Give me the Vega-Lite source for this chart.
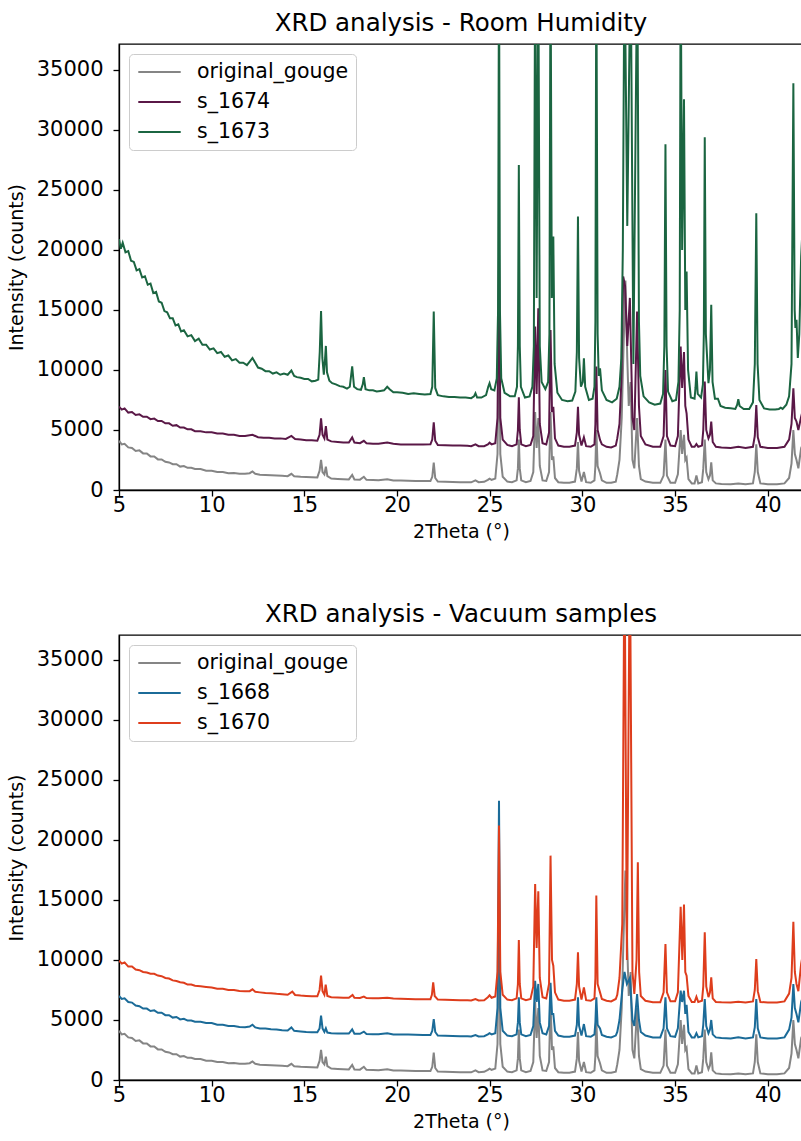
{
"$schema":"https://vega.github.io/schema/vega-lite/v6.json",
"padding":{"left":6,"top":9,"right":0,"bottom":0},
"spacing":57,
"config":{
 "font":"DejaVu Sans",
 "view":{"stroke":"#000","strokeWidth":1.3},
 "axis":{"grid":false,"domainColor":"#000","domainWidth":1.3,"tickColor":"#000","tickWidth":1.3,"tickSize":6,"labelFont":"DejaVu Sans","labelFontSize":21,"labelColor":"#000","titleFont":"DejaVu Sans","titleFontSize":19,"titleFontWeight":"normal","titleColor":"#000","labelFlush":false},
 "axisX":{"labelPadding":-2,"titlePadding":7.5},
 "axisY":{"labelPadding":10,"titlePadding":10},
 "title":{"font":"DejaVu Sans","fontSize":24.5,"fontWeight":"normal","color":"#000","anchor":"middle","frame":"group","baseline":"alphabetic","offset":8},
 "legend":{"orient":"none","legendX":10,"legendY":10,"title":null,"symbolType":"stroke","symbolSize":1800,"symbolStrokeWidth":2,"symbolOffset":1,"clipHeight":22,"labelFont":"DejaVu Sans","labelFontSize":20.5,"labelColor":"#000","labelOffset":15,"padding":7,"strokeColor":"#cccccc","fillColor":"#ffffff","cornerRadius":4,"rowPadding":8}
},
"datasets":{
"gouge":[
{"x":5.0,"y":4100},{"x":5.15,"y":3800},{"x":5.3,"y":3850},{"x":5.5,"y":3550},{"x":5.7,"y":3500},{"x":5.9,"y":3250},{"x":6.1,"y":3300},{"x":6.3,"y":3050},{"x":6.5,"y":3050},{"x":6.7,"y":2800},{"x":6.9,"y":2800},{"x":7.1,"y":2550},{"x":7.3,"y":2550},{"x":7.5,"y":2350},{"x":7.7,"y":2300},{"x":7.9,"y":2150},{"x":8.1,"y":2150},{"x":8.3,"y":1950},{"x":8.5,"y":2000},{"x":8.7,"y":1850},{"x":8.9,"y":1850},{"x":9.1,"y":1750},{"x":9.4,"y":1750},{"x":9.7,"y":1600},{"x":10.0,"y":1600},{"x":10.3,"y":1500},{"x":10.6,"y":1500},{"x":10.9,"y":1400},{"x":11.2,"y":1420},{"x":11.5,"y":1350},{"x":11.8,"y":1350},{"x":12.05,"y":1400},{"x":12.2,"y":1550},{"x":12.35,"y":1350},{"x":12.6,"y":1280},{"x":12.9,"y":1250},{"x":13.2,"y":1220},{"x":13.5,"y":1200},{"x":13.8,"y":1180},{"x":14.1,"y":1150},{"x":14.3,"y":1350},{"x":14.45,"y":1150},{"x":14.8,"y":1100},{"x":15.1,"y":1080},{"x":15.4,"y":1060},{"x":15.7,"y":1050},{"x":15.82,"y":1600},{"x":15.9,"y":2500},{"x":15.98,"y":1500},{"x":16.08,"y":1300},{"x":16.16,"y":1940},{"x":16.24,"y":1150},{"x":16.45,"y":950},{"x":16.8,"y":920},{"x":17.1,"y":900},{"x":17.4,"y":880},{"x":17.58,"y":1250},{"x":17.7,"y":880},{"x":18.0,"y":860},{"x":18.21,"y":1100},{"x":18.35,"y":850},{"x":18.7,"y":830},{"x":19.0,"y":820},{"x":19.47,"y":900},{"x":19.8,"y":800},{"x":20.2,"y":790},{"x":20.6,"y":780},{"x":21.0,"y":760},{"x":21.4,"y":740},{"x":21.8,"y":740},{"x":21.9,"y":1100},{"x":21.98,"y":2280},{"x":22.06,"y":1000},{"x":22.2,"y":700},{"x":22.6,"y":680},{"x":23.0,"y":660},{"x":23.4,"y":650},{"x":23.8,"y":640},{"x":24.0,"y":640},{"x":24.23,"y":800},{"x":24.4,"y":650},{"x":24.7,"y":680},{"x":24.9,"y":850},{"x":24.99,"y":950},{"x":25.1,"y":850},{"x":25.3,"y":950},{"x":25.42,"y":3000},{"x":25.5,"y":15000},{"x":25.57,"y":3000},{"x":25.7,"y":1100},{"x":25.95,"y":700},{"x":26.2,"y":650},{"x":26.45,"y":800},{"x":26.52,"y":1800},{"x":26.57,"y":4200},{"x":26.62,"y":1800},{"x":26.7,"y":800},{"x":26.95,"y":650},{"x":27.2,"y":750},{"x":27.35,"y":1500},{"x":27.45,"y":6500},{"x":27.53,"y":3500},{"x":27.62,"y":6000},{"x":27.7,"y":2000},{"x":27.85,"y":800},{"x":28.05,"y":750},{"x":28.2,"y":1500},{"x":28.28,"y":6500},{"x":28.36,"y":2500},{"x":28.43,"y":2800},{"x":28.52,"y":1000},{"x":28.7,"y":650},{"x":29.0,"y":600},{"x":29.3,"y":600},{"x":29.6,"y":700},{"x":29.7,"y":1800},{"x":29.76,"y":4000},{"x":29.82,"y":1600},{"x":29.95,"y":700},{"x":30.08,"y":1500},{"x":30.2,"y":650},{"x":30.45,"y":600},{"x":30.65,"y":800},{"x":30.7,"y":2000},{"x":30.75,"y":5000},{"x":30.82,"y":2000},{"x":30.95,"y":1400},{"x":31.05,"y":800},{"x":31.3,"y":600},{"x":31.55,"y":600},{"x":31.8,"y":700},{"x":31.88,"y":1300},{"x":32.0,"y":2500},{"x":32.12,"y":6000},{"x":32.22,"y":12000},{"x":32.32,"y":17440},{"x":32.42,"y":11000},{"x":32.5,"y":7000},{"x":32.6,"y":9000},{"x":32.7,"y":2500},{"x":32.8,"y":1800},{"x":32.95,"y":6000},{"x":33.05,"y":2000},{"x":33.15,"y":900},{"x":33.4,"y":700},{"x":33.8,"y":600},{"x":34.2,"y":600},{"x":34.38,"y":1200},{"x":34.48,"y":4200},{"x":34.56,"y":1200},{"x":34.75,"y":600},{"x":35.0,"y":600},{"x":35.15,"y":1300},{"x":35.3,"y":5000},{"x":35.38,"y":3000},{"x":35.48,"y":4600},{"x":35.55,"y":2500},{"x":35.62,"y":2700},{"x":35.72,"y":900},{"x":35.9,"y":550},{"x":36.05,"y":550},{"x":36.15,"y":1200},{"x":36.25,"y":550},{"x":36.45,"y":650},{"x":36.52,"y":1800},{"x":36.6,"y":4200},{"x":36.68,"y":1500},{"x":36.8,"y":900},{"x":36.88,"y":1200},{"x":36.95,"y":2300},{"x":37.03,"y":800},{"x":37.2,"y":550},{"x":37.5,"y":500},{"x":38.0,"y":480},{"x":38.41,"y":550},{"x":38.8,"y":470},{"x":39.2,"y":550},{"x":39.3,"y":1500},{"x":39.38,"y":3800},{"x":39.46,"y":1500},{"x":39.6,"y":550},{"x":40.0,"y":480},{"x":40.5,"y":470},{"x":40.9,"y":550},{"x":41.15,"y":1000},{"x":41.28,"y":2200},{"x":41.38,"y":5000},{"x":41.46,"y":3000},{"x":41.55,"y":2500},{"x":41.65,"y":1800},{"x":41.8,"y":3500},{"x":41.95,"y":4000}
],
"s1674":[
{"x":5.0,"y":6950},{"x":5.15,"y":6700},{"x":5.3,"y":6800},{"x":5.5,"y":6450},{"x":5.7,"y":6500},{"x":5.9,"y":6250},{"x":6.1,"y":6300},{"x":6.3,"y":6100},{"x":6.5,"y":6100},{"x":6.7,"y":5900},{"x":6.9,"y":5950},{"x":7.1,"y":5750},{"x":7.3,"y":5750},{"x":7.5,"y":5550},{"x":7.7,"y":5550},{"x":7.9,"y":5350},{"x":8.1,"y":5400},{"x":8.3,"y":5200},{"x":8.5,"y":5200},{"x":8.7,"y":5050},{"x":8.9,"y":5050},{"x":9.1,"y":4900},{"x":9.4,"y":4900},{"x":9.7,"y":4800},{"x":10.0,"y":4800},{"x":10.3,"y":4700},{"x":10.6,"y":4700},{"x":10.9,"y":4600},{"x":11.2,"y":4600},{"x":11.5,"y":4500},{"x":11.8,"y":4500},{"x":12.2,"y":4600},{"x":12.5,"y":4400},{"x":12.8,"y":4350},{"x":13.1,"y":4350},{"x":13.4,"y":4300},{"x":13.7,"y":4300},{"x":14.0,"y":4250},{"x":14.3,"y":4500},{"x":14.5,"y":4250},{"x":14.8,"y":4200},{"x":15.1,"y":4150},{"x":15.4,"y":4150},{"x":15.7,"y":4100},{"x":15.82,"y":4600},{"x":15.9,"y":5970},{"x":15.98,"y":4600},{"x":16.08,"y":4300},{"x":16.16,"y":5330},{"x":16.24,"y":4200},{"x":16.45,"y":4050},{"x":16.8,"y":4000},{"x":17.1,"y":3950},{"x":17.4,"y":3950},{"x":17.58,"y":4380},{"x":17.7,"y":3950},{"x":18.0,"y":3900},{"x":18.21,"y":4100},{"x":18.35,"y":3900},{"x":18.7,"y":3850},{"x":19.0,"y":3850},{"x":19.47,"y":3950},{"x":19.8,"y":3850},{"x":20.2,"y":3800},{"x":20.6,"y":3800},{"x":21.0,"y":3800},{"x":21.4,"y":3780},{"x":21.8,"y":3800},{"x":21.9,"y":4200},{"x":21.98,"y":5640},{"x":22.06,"y":4100},{"x":22.2,"y":3750},{"x":22.6,"y":3720},{"x":23.0,"y":3700},{"x":23.4,"y":3700},{"x":23.8,"y":3680},{"x":24.0,"y":3650},{"x":24.23,"y":3800},{"x":24.4,"y":3650},{"x":24.7,"y":3650},{"x":24.9,"y":3800},{"x":24.99,"y":3940},{"x":25.1,"y":3800},{"x":25.3,"y":3900},{"x":25.42,"y":6000},{"x":25.5,"y":19440},{"x":25.57,"y":6000},{"x":25.7,"y":4200},{"x":25.95,"y":3750},{"x":26.2,"y":3650},{"x":26.45,"y":3800},{"x":26.52,"y":5000},{"x":26.57,"y":7720},{"x":26.62,"y":5000},{"x":26.7,"y":3800},{"x":26.95,"y":3650},{"x":27.2,"y":3750},{"x":27.35,"y":4500},{"x":27.45,"y":13610},{"x":27.53,"y":8000},{"x":27.62,"y":15140},{"x":27.7,"y":5500},{"x":27.85,"y":3900},{"x":28.05,"y":3800},{"x":28.2,"y":4800},{"x":28.28,"y":13330},{"x":28.36,"y":6500},{"x":28.43,"y":6940},{"x":28.52,"y":4300},{"x":28.7,"y":3700},{"x":29.0,"y":3600},{"x":29.3,"y":3600},{"x":29.6,"y":3700},{"x":29.7,"y":4800},{"x":29.76,"y":6940},{"x":29.82,"y":4600},{"x":29.95,"y":3700},{"x":30.08,"y":4390},{"x":30.2,"y":3650},{"x":30.45,"y":3600},{"x":30.65,"y":3800},{"x":30.7,"y":5500},{"x":30.75,"y":10280},{"x":30.82,"y":5000},{"x":30.95,"y":4170},{"x":31.05,"y":3800},{"x":31.3,"y":3600},{"x":31.55,"y":3550},{"x":31.8,"y":3700},{"x":31.88,"y":4300},{"x":32.0,"y":5500},{"x":32.1,"y":9000},{"x":32.2,"y":17780},{"x":32.3,"y":17000},{"x":32.42,"y":12000},{"x":32.56,"y":16000},{"x":32.7,"y":6000},{"x":32.8,"y":5000},{"x":32.95,"y":14860},{"x":33.05,"y":7000},{"x":33.15,"y":4500},{"x":33.4,"y":3800},{"x":33.8,"y":3600},{"x":34.2,"y":3600},{"x":34.38,"y":4500},{"x":34.48,"y":10000},{"x":34.56,"y":4500},{"x":34.75,"y":3700},{"x":35.0,"y":3650},{"x":35.15,"y":4500},{"x":35.3,"y":11940},{"x":35.38,"y":8500},{"x":35.48,"y":11500},{"x":35.55,"y":7000},{"x":35.62,"y":6390},{"x":35.72,"y":4200},{"x":35.9,"y":3600},{"x":36.05,"y":3600},{"x":36.15,"y":3830},{"x":36.25,"y":3600},{"x":36.45,"y":3700},{"x":36.52,"y":5000},{"x":36.6,"y":9030},{"x":36.68,"y":5000},{"x":36.8,"y":4300},{"x":36.88,"y":4600},{"x":36.95,"y":5690},{"x":37.03,"y":4000},{"x":37.2,"y":3600},{"x":37.5,"y":3550},{"x":38.0,"y":3500},{"x":38.41,"y":3600},{"x":38.8,"y":3500},{"x":39.2,"y":3600},{"x":39.3,"y":4500},{"x":39.38,"y":7080},{"x":39.46,"y":4400},{"x":39.6,"y":3600},{"x":40.0,"y":3500},{"x":40.5,"y":3500},{"x":40.9,"y":3600},{"x":41.15,"y":4200},{"x":41.28,"y":5500},{"x":41.38,"y":8470},{"x":41.46,"y":6000},{"x":41.55,"y":5690},{"x":41.65,"y":5000},{"x":41.8,"y":6110},{"x":41.95,"y":7000}
],
"s1673":[
{"x":5.0,"y":20900},{"x":5.1,"y":20100},{"x":5.2,"y":20600},{"x":5.35,"y":19800},{"x":5.5,"y":19900},{"x":5.65,"y":19100},{"x":5.8,"y":19000},{"x":5.95,"y":18300},{"x":6.1,"y":18400},{"x":6.25,"y":17700},{"x":6.4,"y":17800},{"x":6.55,"y":17100},{"x":6.7,"y":17200},{"x":6.85,"y":16400},{"x":7.0,"y":16500},{"x":7.15,"y":15700},{"x":7.3,"y":15600},{"x":7.45,"y":14900},{"x":7.6,"y":14800},{"x":7.75,"y":14300},{"x":7.9,"y":14300},{"x":8.05,"y":13700},{"x":8.2,"y":13800},{"x":8.35,"y":13200},{"x":8.5,"y":13300},{"x":8.7,"y":12800},{"x":8.9,"y":12900},{"x":9.1,"y":12400},{"x":9.3,"y":12600},{"x":9.5,"y":12100},{"x":9.7,"y":12100},{"x":9.9,"y":11700},{"x":10.1,"y":11800},{"x":10.3,"y":11400},{"x":10.5,"y":11500},{"x":10.7,"y":11100},{"x":10.9,"y":11200},{"x":11.1,"y":10800},{"x":11.3,"y":10900},{"x":11.5,"y":10600},{"x":11.7,"y":10600},{"x":11.9,"y":10400},{"x":12.05,"y":10700},{"x":12.2,"y":11000},{"x":12.35,"y":10600},{"x":12.5,"y":10200},{"x":12.7,"y":10100},{"x":12.9,"y":9900},{"x":13.1,"y":9900},{"x":13.3,"y":9700},{"x":13.5,"y":9800},{"x":13.7,"y":9600},{"x":13.9,"y":9700},{"x":14.1,"y":9600},{"x":14.3,"y":9950},{"x":14.45,"y":9500},{"x":14.6,"y":9400},{"x":14.8,"y":9350},{"x":15.0,"y":9250},{"x":15.2,"y":9250},{"x":15.4,"y":9050},{"x":15.6,"y":9100},{"x":15.75,"y":9200},{"x":15.83,"y":11500},{"x":15.9,"y":14900},{"x":15.97,"y":11000},{"x":16.05,"y":9600},{"x":16.12,"y":11000},{"x":16.16,"y":12000},{"x":16.22,"y":9800},{"x":16.35,"y":9100},{"x":16.5,"y":8900},{"x":16.7,"y":8800},{"x":16.9,"y":8650},{"x":17.1,"y":8600},{"x":17.3,"y":8450},{"x":17.45,"y":8600},{"x":17.58,"y":10300},{"x":17.68,"y":8600},{"x":17.85,"y":8400},{"x":18.05,"y":8350},{"x":18.15,"y":8800},{"x":18.21,"y":9400},{"x":18.3,"y":8400},{"x":18.5,"y":8300},{"x":18.7,"y":8300},{"x":18.9,"y":8200},{"x":19.1,"y":8250},{"x":19.3,"y":8300},{"x":19.47,"y":8600},{"x":19.6,"y":8400},{"x":19.8,"y":8150},{"x":20.0,"y":8150},{"x":20.3,"y":8100},{"x":20.6,"y":8000},{"x":20.9,"y":8050},{"x":21.2,"y":8000},{"x":21.5,"y":7950},{"x":21.8,"y":8000},{"x":21.9,"y":8600},{"x":21.98,"y":14860},{"x":22.06,"y":8500},{"x":22.2,"y":7900},{"x":22.5,"y":7800},{"x":22.8,"y":7750},{"x":23.1,"y":7750},{"x":23.4,"y":7700},{"x":23.7,"y":7700},{"x":24.0,"y":7650},{"x":24.15,"y":7800},{"x":24.23,"y":8060},{"x":24.32,"y":7700},{"x":24.55,"y":7700},{"x":24.8,"y":7900},{"x":24.92,"y":8600},{"x":24.99,"y":8890},{"x":25.08,"y":8400},{"x":25.25,"y":8300},{"x":25.38,"y":9300},{"x":25.45,"y":15000},{"x":25.5,"y":45000},{"x":25.55,"y":15000},{"x":25.62,"y":9300},{"x":25.8,"y":8100},{"x":26.1,"y":7800},{"x":26.35,"y":7800},{"x":26.47,"y":8600},{"x":26.52,"y":12000},{"x":26.57,"y":27080},{"x":26.62,"y":12000},{"x":26.68,"y":8600},{"x":26.9,"y":7700},{"x":27.15,"y":7800},{"x":27.3,"y":8600},{"x":27.38,"y":12000},{"x":27.45,"y":45000},{"x":27.53,"y":16000},{"x":27.62,"y":45000},{"x":27.7,"y":12000},{"x":27.8,"y":9000},{"x":28.0,"y":8400},{"x":28.15,"y":9000},{"x":28.22,"y":13000},{"x":28.28,"y":45000},{"x":28.35,"y":16000},{"x":28.43,"y":21110},{"x":28.5,"y":10500},{"x":28.65,"y":8100},{"x":28.9,"y":7500},{"x":29.2,"y":7400},{"x":29.45,"y":7450},{"x":29.62,"y":8200},{"x":29.7,"y":11500},{"x":29.76,"y":22780},{"x":29.82,"y":11000},{"x":29.92,"y":8600},{"x":30.02,"y":9000},{"x":30.08,"y":10970},{"x":30.15,"y":8600},{"x":30.35,"y":7500},{"x":30.55,"y":7600},{"x":30.65,"y":8600},{"x":30.7,"y":14000},{"x":30.75,"y":45000},{"x":30.82,"y":13000},{"x":30.88,"y":9500},{"x":30.95,"y":10140},{"x":31.05,"y":8300},{"x":31.3,"y":7500},{"x":31.6,"y":7300},{"x":31.85,"y":7600},{"x":32.0,"y":8600},{"x":32.1,"y":11000},{"x":32.18,"y":20000},{"x":32.27,"y":45000},{"x":32.42,"y":22000},{"x":32.6,"y":45000},{"x":32.75,"y":10500},{"x":32.96,"y":45000},{"x":33.05,"y":14000},{"x":33.12,"y":9500},{"x":33.3,"y":7800},{"x":33.6,"y":7300},{"x":33.9,"y":7100},{"x":34.2,"y":7200},{"x":34.35,"y":8000},{"x":34.42,"y":12000},{"x":34.48,"y":28800},{"x":34.54,"y":12000},{"x":34.62,"y":8200},{"x":34.85,"y":7400},{"x":35.05,"y":7500},{"x":35.18,"y":9000},{"x":35.25,"y":15000},{"x":35.3,"y":45000},{"x":35.38,"y":20000},{"x":35.48,"y":32550},{"x":35.55,"y":15000},{"x":35.62,"y":18190},{"x":35.7,"y":10000},{"x":35.85,"y":7700},{"x":36.05,"y":7600},{"x":36.1,"y":8500},{"x":36.15,"y":9860},{"x":36.22,"y":8000},{"x":36.4,"y":7700},{"x":36.5,"y":8800},{"x":36.55,"y":13000},{"x":36.6,"y":29390},{"x":36.66,"y":13000},{"x":36.8,"y":8900},{"x":36.88,"y":10000},{"x":36.95,"y":15420},{"x":37.02,"y":9000},{"x":37.15,"y":7600},{"x":37.31,"y":7600},{"x":37.45,"y":7000},{"x":37.7,"y":6850},{"x":38.0,"y":6800},{"x":38.25,"y":6750},{"x":38.35,"y":7100},{"x":38.41,"y":7560},{"x":38.48,"y":7000},{"x":38.7,"y":6750},{"x":39.0,"y":6750},{"x":39.2,"y":7300},{"x":39.3,"y":10500},{"x":39.38,"y":23060},{"x":39.45,"y":10500},{"x":39.55,"y":7500},{"x":39.8,"y":6800},{"x":40.1,"y":6700},{"x":40.4,"y":6700},{"x":40.6,"y":6750},{"x":40.7,"y":6850},{"x":40.8,"y":6750},{"x":41.0,"y":7100},{"x":41.15,"y":7800},{"x":41.28,"y":10500},{"x":41.38,"y":33890},{"x":41.45,"y":15000},{"x":41.49,"y":13500},{"x":41.55,"y":14170},{"x":41.62,"y":11000},{"x":41.7,"y":13000},{"x":41.8,"y":19440},{"x":41.85,"y":21000},{"x":41.95,"y":30000}
],
"s1668":[
{"x":5.0,"y":7000},{"x":5.15,"y":6750},{"x":5.3,"y":6800},{"x":5.5,"y":6500},{"x":5.7,"y":6450},{"x":5.9,"y":6200},{"x":6.1,"y":6150},{"x":6.3,"y":5950},{"x":6.5,"y":5950},{"x":6.7,"y":5750},{"x":6.9,"y":5800},{"x":7.1,"y":5600},{"x":7.3,"y":5600},{"x":7.5,"y":5400},{"x":7.7,"y":5400},{"x":7.9,"y":5200},{"x":8.1,"y":5250},{"x":8.3,"y":5050},{"x":8.5,"y":5100},{"x":8.7,"y":4950},{"x":8.9,"y":4950},{"x":9.1,"y":4850},{"x":9.4,"y":4850},{"x":9.7,"y":4750},{"x":10.0,"y":4750},{"x":10.3,"y":4600},{"x":10.6,"y":4600},{"x":10.9,"y":4500},{"x":11.2,"y":4500},{"x":11.5,"y":4420},{"x":11.8,"y":4400},{"x":12.05,"y":4450},{"x":12.2,"y":4600},{"x":12.35,"y":4380},{"x":12.6,"y":4300},{"x":12.9,"y":4280},{"x":13.2,"y":4230},{"x":13.5,"y":4200},{"x":13.8,"y":4150},{"x":14.1,"y":4120},{"x":14.3,"y":4380},{"x":14.45,"y":4100},{"x":14.8,"y":4050},{"x":15.1,"y":4000},{"x":15.4,"y":3980},{"x":15.7,"y":3970},{"x":15.82,"y":4300},{"x":15.9,"y":5360},{"x":15.98,"y":4300},{"x":16.08,"y":4000},{"x":16.16,"y":4300},{"x":16.24,"y":3950},{"x":16.45,"y":3900},{"x":16.8,"y":3880},{"x":17.1,"y":3870},{"x":17.4,"y":3870},{"x":17.58,"y":4220},{"x":17.7,"y":3860},{"x":18.0,"y":3850},{"x":18.21,"y":4030},{"x":18.35,"y":3840},{"x":18.7,"y":3820},{"x":19.0,"y":3820},{"x":19.47,"y":3900},{"x":19.8,"y":3800},{"x":20.2,"y":3790},{"x":20.6,"y":3780},{"x":21.0,"y":3760},{"x":21.4,"y":3740},{"x":21.8,"y":3740},{"x":21.9,"y":4100},{"x":21.98,"y":5080},{"x":22.06,"y":4000},{"x":22.2,"y":3700},{"x":22.6,"y":3680},{"x":23.0,"y":3660},{"x":23.4,"y":3650},{"x":23.8,"y":3640},{"x":24.0,"y":3630},{"x":24.23,"y":3750},{"x":24.4,"y":3630},{"x":24.7,"y":3650},{"x":24.9,"y":3800},{"x":24.99,"y":3900},{"x":25.1,"y":3800},{"x":25.3,"y":3900},{"x":25.42,"y":6000},{"x":25.5,"y":23270},{"x":25.57,"y":6000},{"x":25.7,"y":4100},{"x":25.95,"y":3700},{"x":26.2,"y":3650},{"x":26.45,"y":3800},{"x":26.52,"y":4800},{"x":26.57,"y":6880},{"x":26.62,"y":4800},{"x":26.7,"y":3800},{"x":26.95,"y":3650},{"x":27.2,"y":3750},{"x":27.35,"y":4500},{"x":27.45,"y":8270},{"x":27.53,"y":6500},{"x":27.62,"y":8000},{"x":27.7,"y":4800},{"x":27.85,"y":3900},{"x":28.05,"y":3800},{"x":28.2,"y":4500},{"x":28.28,"y":8100},{"x":28.36,"y":5500},{"x":28.43,"y":5500},{"x":28.52,"y":4100},{"x":28.7,"y":3700},{"x":29.0,"y":3600},{"x":29.3,"y":3600},{"x":29.6,"y":3700},{"x":29.7,"y":4600},{"x":29.76,"y":6880},{"x":29.82,"y":4500},{"x":29.95,"y":3700},{"x":30.08,"y":4660},{"x":30.2,"y":3650},{"x":30.45,"y":3600},{"x":30.65,"y":3800},{"x":30.7,"y":4800},{"x":30.75,"y":6880},{"x":30.82,"y":4600},{"x":30.95,"y":4300},{"x":31.05,"y":3750},{"x":31.3,"y":3600},{"x":31.55,"y":3550},{"x":31.8,"y":3700},{"x":31.88,"y":4000},{"x":32.0,"y":5000},{"x":32.15,"y":7500},{"x":32.27,"y":9000},{"x":32.4,"y":8000},{"x":32.56,"y":8500},{"x":32.7,"y":5000},{"x":32.8,"y":4500},{"x":32.95,"y":7160},{"x":33.05,"y":5000},{"x":33.15,"y":4000},{"x":33.4,"y":3700},{"x":33.8,"y":3550},{"x":34.2,"y":3550},{"x":34.38,"y":4300},{"x":34.48,"y":6880},{"x":34.56,"y":4300},{"x":34.75,"y":3650},{"x":35.0,"y":3600},{"x":35.15,"y":4300},{"x":35.3,"y":7440},{"x":35.38,"y":6500},{"x":35.48,"y":7440},{"x":35.55,"y":5500},{"x":35.62,"y":6270},{"x":35.72,"y":4000},{"x":35.9,"y":3550},{"x":36.05,"y":3550},{"x":36.15,"y":3900},{"x":36.25,"y":3550},{"x":36.45,"y":3650},{"x":36.52,"y":4600},{"x":36.6,"y":6750},{"x":36.68,"y":4500},{"x":36.8,"y":3900},{"x":36.88,"y":4200},{"x":36.95,"y":5000},{"x":37.03,"y":3800},{"x":37.2,"y":3550},{"x":37.5,"y":3500},{"x":38.0,"y":3450},{"x":38.41,"y":3550},{"x":38.8,"y":3450},{"x":39.2,"y":3550},{"x":39.3,"y":4400},{"x":39.38,"y":6750},{"x":39.46,"y":4300},{"x":39.6,"y":3550},{"x":40.0,"y":3450},{"x":40.5,"y":3450},{"x":40.9,"y":3550},{"x":41.15,"y":4200},{"x":41.28,"y":5200},{"x":41.38,"y":8000},{"x":41.46,"y":6000},{"x":41.55,"y":5500},{"x":41.65,"y":4800},{"x":41.8,"y":6500},{"x":41.95,"y":7200}
],
"s1670":[
{"x":5.0,"y":9950},{"x":5.15,"y":9700},{"x":5.3,"y":9800},{"x":5.5,"y":9450},{"x":5.7,"y":9450},{"x":5.9,"y":9200},{"x":6.1,"y":9150},{"x":6.3,"y":9000},{"x":6.5,"y":8950},{"x":6.7,"y":8850},{"x":6.9,"y":8850},{"x":7.1,"y":8700},{"x":7.3,"y":8650},{"x":7.5,"y":8500},{"x":7.7,"y":8450},{"x":7.9,"y":8300},{"x":8.1,"y":8250},{"x":8.3,"y":8150},{"x":8.5,"y":8100},{"x":8.7,"y":7950},{"x":8.9,"y":7950},{"x":9.1,"y":7850},{"x":9.4,"y":7800},{"x":9.7,"y":7750},{"x":10.0,"y":7700},{"x":10.3,"y":7600},{"x":10.6,"y":7600},{"x":10.9,"y":7500},{"x":11.2,"y":7500},{"x":11.5,"y":7420},{"x":11.8,"y":7400},{"x":12.05,"y":7400},{"x":12.2,"y":7550},{"x":12.35,"y":7350},{"x":12.6,"y":7300},{"x":12.9,"y":7250},{"x":13.2,"y":7230},{"x":13.5,"y":7180},{"x":13.8,"y":7150},{"x":14.1,"y":7100},{"x":14.35,"y":7360},{"x":14.5,"y":7080},{"x":14.8,"y":7030},{"x":15.1,"y":7000},{"x":15.4,"y":6980},{"x":15.7,"y":6970},{"x":15.82,"y":7500},{"x":15.9,"y":8690},{"x":15.98,"y":7400},{"x":16.08,"y":7100},{"x":16.15,"y":7940},{"x":16.24,"y":7000},{"x":16.45,"y":6890},{"x":16.8,"y":6870},{"x":17.1,"y":6850},{"x":17.4,"y":6850},{"x":17.6,"y":7080},{"x":17.7,"y":6850},{"x":18.0,"y":6830},{"x":18.21,"y":6950},{"x":18.35,"y":6820},{"x":18.7,"y":6800},{"x":19.0,"y":6800},{"x":19.47,"y":6850},{"x":19.8,"y":6780},{"x":20.2,"y":6760},{"x":20.6,"y":6750},{"x":21.0,"y":6730},{"x":21.4,"y":6720},{"x":21.8,"y":6720},{"x":21.88,"y":7100},{"x":21.95,"y":8140},{"x":22.03,"y":7000},{"x":22.2,"y":6700},{"x":22.6,"y":6680},{"x":23.0,"y":6660},{"x":23.4,"y":6650},{"x":23.8,"y":6640},{"x":24.0,"y":6630},{"x":24.23,"y":6750},{"x":24.4,"y":6630},{"x":24.7,"y":6650},{"x":24.9,"y":6900},{"x":24.99,"y":7050},{"x":25.1,"y":6850},{"x":25.3,"y":6950},{"x":25.42,"y":9000},{"x":25.5,"y":21190},{"x":25.57,"y":9000},{"x":25.7,"y":7100},{"x":25.95,"y":6700},{"x":26.2,"y":6650},{"x":26.45,"y":6800},{"x":26.52,"y":8000},{"x":26.57,"y":11660},{"x":26.62,"y":8000},{"x":26.7,"y":6800},{"x":26.95,"y":6650},{"x":27.2,"y":6750},{"x":27.35,"y":7800},{"x":27.45,"y":16330},{"x":27.53,"y":11000},{"x":27.62,"y":15720},{"x":27.7,"y":8500},{"x":27.85,"y":6900},{"x":28.05,"y":6800},{"x":28.2,"y":8000},{"x":28.28,"y":18690},{"x":28.36,"y":10000},{"x":28.43,"y":9520},{"x":28.52,"y":7300},{"x":28.7,"y":6700},{"x":29.0,"y":6600},{"x":29.3,"y":6600},{"x":29.6,"y":6700},{"x":29.7,"y":8000},{"x":29.76,"y":10630},{"x":29.82,"y":7800},{"x":29.95,"y":6700},{"x":30.08,"y":7720},{"x":30.2,"y":6650},{"x":30.45,"y":6600},{"x":30.65,"y":6800},{"x":30.7,"y":8500},{"x":30.75,"y":15360},{"x":30.82,"y":8000},{"x":30.95,"y":7300},{"x":31.05,"y":6750},{"x":31.3,"y":6600},{"x":31.55,"y":6550},{"x":31.8,"y":6750},{"x":31.88,"y":7100},{"x":32.0,"y":8500},{"x":32.15,"y":13000},{"x":32.27,"y":45000},{"x":32.4,"y":10000},{"x":32.56,"y":45000},{"x":32.7,"y":9000},{"x":32.8,"y":7170},{"x":32.92,"y":10000},{"x":32.99,"y":18130},{"x":33.06,"y":9000},{"x":33.15,"y":7000},{"x":33.4,"y":6600},{"x":33.8,"y":6470},{"x":34.2,"y":6470},{"x":34.38,"y":7300},{"x":34.48,"y":11330},{"x":34.56,"y":7300},{"x":34.75,"y":6550},{"x":35.0,"y":6550},{"x":35.15,"y":7300},{"x":35.3,"y":14440},{"x":35.39,"y":10000},{"x":35.48,"y":14610},{"x":35.55,"y":9000},{"x":35.62,"y":8690},{"x":35.72,"y":7000},{"x":35.9,"y":6500},{"x":36.05,"y":6500},{"x":36.15,"y":6940},{"x":36.25,"y":6500},{"x":36.45,"y":6600},{"x":36.52,"y":7800},{"x":36.6,"y":12300},{"x":36.68,"y":7800},{"x":36.8,"y":6900},{"x":36.88,"y":7300},{"x":36.95,"y":8550},{"x":37.03,"y":6800},{"x":37.2,"y":6500},{"x":37.5,"y":6470},{"x":38.0,"y":6450},{"x":38.41,"y":6520},{"x":38.8,"y":6450},{"x":39.2,"y":6550},{"x":39.3,"y":7500},{"x":39.38,"y":10080},{"x":39.46,"y":7400},{"x":39.6,"y":6500},{"x":40.0,"y":6450},{"x":40.5,"y":6450},{"x":40.9,"y":6550},{"x":41.15,"y":7200},{"x":41.28,"y":8500},{"x":41.38,"y":13190},{"x":41.46,"y":9000},{"x":41.55,"y":8000},{"x":41.65,"y":7400},{"x":41.8,"y":9670},{"x":41.95,"y":11000}
]
},
"vconcat":[
{"title":"XRD analysis - Room Humidity","width":684,"height":446,
 "encoding":{
  "x":{"field":"x","type":"quantitative","scale":{"domain":[5,41.9],"nice":false},"axis":{"title":"2Theta (°)","values":[5,10,15,20,25,30,35,40]}},
  "y":{"field":"y","type":"quantitative","scale":{"domain":[0,37150],"nice":false},"axis":{"title":"Intensity (counts)","values":[0,5000,10000,15000,20000,25000,30000,35000],"format":"d"}}
 },
 "layer":[
  {"data":{"name":"gouge"},"mark":{"type":"line","clip":true,"strokeWidth":2},"encoding":{"color":{"datum":"original_gouge","scale":{"domain":["original_gouge","s_1674","s_1673"],"range":["#858585","#5a1847","#1b6541"]}}}},
  {"data":{"name":"s1674"},"mark":{"type":"line","clip":true,"strokeWidth":2},"encoding":{"color":{"datum":"s_1674"}}},
  {"data":{"name":"s1673"},"mark":{"type":"line","clip":true,"strokeWidth":2},"encoding":{"color":{"datum":"s_1673"}}}
 ]
},
{"title":"XRD analysis - Vacuum samples","width":684,"height":445,
 "encoding":{
  "x":{"field":"x","type":"quantitative","scale":{"domain":[5,41.9],"nice":false},"axis":{"title":"2Theta (°)","values":[5,10,15,20,25,30,35,40]}},
  "y":{"field":"y","type":"quantitative","scale":{"domain":[0,37070],"nice":false},"axis":{"title":"Intensity (counts)","values":[0,5000,10000,15000,20000,25000,30000,35000],"format":"d"}}
 },
 "layer":[
  {"data":{"name":"gouge"},"mark":{"type":"line","clip":true,"strokeWidth":2},"encoding":{"color":{"datum":"original_gouge","scale":{"domain":["original_gouge","s_1668","s_1670"],"range":["#858585","#1b6b98","#de3d1c"]}}}},
  {"data":{"name":"s1668"},"mark":{"type":"line","clip":true,"strokeWidth":2},"encoding":{"color":{"datum":"s_1668"}}},
  {"data":{"name":"s1670"},"mark":{"type":"line","clip":true,"strokeWidth":2},"encoding":{"color":{"datum":"s_1670"}}}
 ]
}
],
"resolve":{"scale":{"color":"independent"},"legend":{"color":"independent"}}
}
